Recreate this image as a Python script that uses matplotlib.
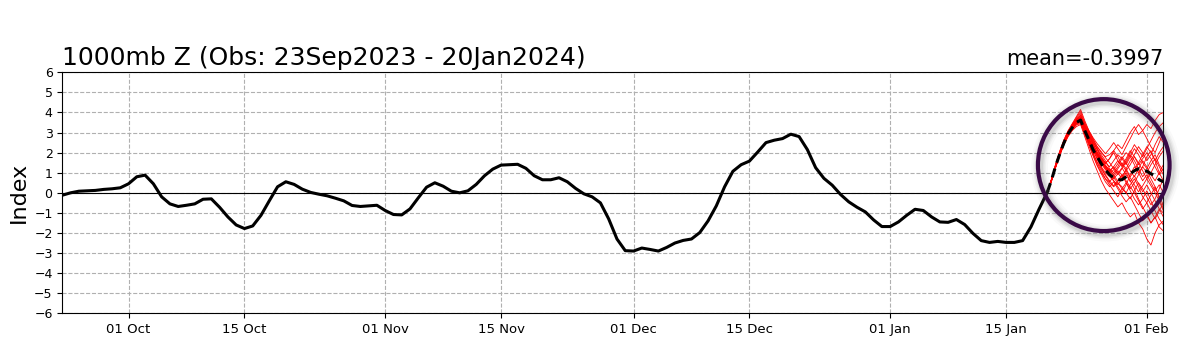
import matplotlib
matplotlib.use("Agg")
import matplotlib.pyplot as plt
import matplotlib.dates as mdates
from matplotlib.patches import Ellipse
import pandas as pd

# ---------------- data ----------------
obs_start = "2023-09-23"
obs_values = [
    -0.12, 0.00, 0.08, 0.10, 0.12, 0.17, 0.20, 0.25, 0.45, 0.80,
    0.88, 0.45, -0.20, -0.55, -0.68, -0.62, -0.55, -0.32, -0.30, -0.72,
    -1.20, -1.60, -1.78, -1.65, -1.12, -0.40, 0.30, 0.55, 0.42, 0.18,
    0.02, -0.07, -0.15, -0.27, -0.40, -0.63, -0.68, -0.65, -0.62, -0.88,
    -1.08, -1.10, -0.80, -0.25, 0.28, 0.50, 0.33, 0.08, 0.00, 0.10,
    0.42, 0.85, 1.18, 1.38, 1.40, 1.42, 1.22, 0.85, 0.65, 0.65,
    0.75, 0.55, 0.22, -0.05, -0.20, -0.50, -1.30, -2.30, -2.88, -2.90,
    -2.75, -2.82, -2.90, -2.72, -2.50, -2.37, -2.30, -1.98, -1.40, -0.65,
    0.30, 1.07, 1.40, 1.58, 2.03, 2.50, 2.62, 2.70, 2.92, 2.80,
    2.15, 1.25, 0.72, 0.38, -0.08, -0.45, -0.72, -0.95, -1.35, -1.68,
    -1.68, -1.45, -1.12, -0.82, -0.88, -1.20, -1.45, -1.47, -1.33, -1.58,
    -2.02, -2.38, -2.47, -2.42, -2.47, -2.47, -2.38, -1.70, -0.80, 0.05,
]

fc_start = "2024-01-20"
fc_mean = [0.05, 0.65, 1.35, 1.95, 2.50, 2.95, 3.25, 3.50, 3.62,
           3.10, 2.65, 2.15, 1.80, 1.45, 1.15, 0.90, 0.75, 0.65, 0.65,
           0.80, 0.95, 1.10, 1.20, 1.15, 1.08, 0.95, 0.85, 0.65, 0.55]

members = [
    [0.05, 0.70, 1.45, 2.10, 2.65, 3.10, 3.45, 3.80, 4.15, 3.60, 3.10, 2.70, 2.30, 2.00, 1.80, 1.90, 2.10, 2.40, 2.20, 2.60, 3.00, 3.30, 2.90, 3.10, 3.40, 3.20, 3.60, 3.90, 4.00],
    [0.05, 0.60, 1.30, 1.90, 2.40, 2.80, 3.10, 3.30, 3.40, 2.80, 2.20, 1.60, 1.10, 0.60, 0.20, -0.10, -0.40, -0.70, -0.50, -0.90, -1.20, -1.00, -1.50, -1.80, -2.30, -2.60, -2.00, -1.60, -1.40],
    [0.05, 0.65, 1.35, 2.00, 2.55, 3.00, 3.30, 3.60, 3.75, 3.30, 2.90, 2.50, 2.20, 1.80, 1.50, 1.30, 1.60, 1.90, 1.70, 1.40, 1.80, 2.20, 1.90, 1.50, 1.20, 1.60, 1.90, 1.40, 1.10],
    [0.05, 0.62, 1.30, 1.92, 2.45, 2.90, 3.20, 3.45, 3.55, 3.00, 2.50, 2.00, 1.50, 1.10, 0.70, 0.50, 0.30, 0.50, 0.20, 0.00, 0.40, 0.70, 0.30, -0.20, -0.50, -0.10, 0.30, -0.30, -0.80],
    [0.05, 0.68, 1.40, 2.02, 2.55, 3.00, 3.35, 3.65, 3.85, 3.40, 3.00, 2.60, 2.20, 1.90, 1.60, 1.20, 1.00, 1.30, 1.70, 2.00, 1.80, 1.40, 1.00, 1.30, 1.80, 2.10, 1.60, 1.00, 0.60],
    [0.05, 0.63, 1.32, 1.93, 2.47, 2.92, 3.22, 3.48, 3.60, 3.05, 2.55, 2.10, 1.70, 1.30, 1.00, 0.80, 0.60, 0.40, 0.70, 1.00, 0.60, 0.20, -0.30, -0.70, -1.10, -1.50, -1.20, -1.70, -1.90],
    [0.05, 0.66, 1.37, 1.98, 2.53, 2.98, 3.30, 3.58, 3.72, 3.20, 2.75, 2.30, 1.90, 1.60, 1.30, 1.10, 1.30, 1.00, 0.70, 1.20, 1.60, 1.90, 2.30, 2.00, 1.60, 1.90, 2.40, 2.80, 2.50],
    [0.05, 0.64, 1.34, 1.95, 2.50, 2.95, 3.26, 3.52, 3.65, 3.10, 2.60, 2.20, 1.85, 1.50, 1.20, 0.90, 0.60, 0.30, 0.00, 0.40, 0.90, 1.30, 1.00, 0.60, 0.90, 0.50, 0.10, 0.40, 0.00],
    [0.05, 0.67, 1.38, 2.00, 2.55, 3.02, 3.34, 3.62, 3.80, 3.35, 2.95, 2.55, 2.15, 1.75, 1.45, 1.70, 2.00, 1.60, 1.30, 1.50, 1.90, 1.60, 1.20, 0.80, 1.10, 0.70, 0.30, -0.20, -0.60],
    [0.05, 0.61, 1.29, 1.90, 2.43, 2.87, 3.17, 3.42, 3.50, 2.95, 2.45, 1.95, 1.55, 1.20, 0.85, 0.55, 0.80, 1.10, 0.90, 0.50, 0.20, 0.50, 0.90, 1.30, 1.00, 1.40, 1.70, 1.30, 0.90],
    [0.05, 0.69, 1.42, 2.05, 2.60, 3.05, 3.38, 3.70, 3.95, 3.45, 3.05, 2.65, 2.30, 2.05, 1.75, 1.50, 1.20, 0.90, 1.20, 1.60, 2.00, 2.40, 2.10, 1.80, 2.20, 2.60, 3.00, 3.30, 3.50],
    [0.05, 0.63, 1.31, 1.92, 2.46, 2.90, 3.20, 3.46, 3.58, 3.00, 2.45, 1.90, 1.40, 1.00, 0.70, 0.40, 0.10, -0.20, 0.20, 0.50, 0.10, -0.30, -0.60, -0.30, 0.10, -0.40, -0.90, -1.30, -1.60],
    [0.05, 0.65, 1.36, 1.98, 2.52, 2.97, 3.28, 3.55, 3.68, 3.20, 2.70, 2.25, 1.80, 1.45, 1.15, 0.95, 1.15, 1.45, 1.80, 1.50, 1.10, 0.80, 1.20, 1.60, 1.30, 0.90, 0.60, 1.00, 1.40],
    [0.05, 0.66, 1.36, 1.97, 2.52, 2.96, 3.28, 3.56, 3.70, 3.25, 2.80, 2.40, 2.00, 1.65, 1.30, 1.00, 0.75, 0.50, 0.30, 0.00, -0.30, 0.10, 0.50, 0.20, -0.20, -0.60, -0.30, 0.20, 0.70],
    [0.05, 0.64, 1.33, 1.95, 2.49, 2.94, 3.25, 3.50, 3.63, 3.10, 2.65, 2.25, 1.90, 1.60, 1.35, 1.15, 0.90, 1.20, 1.50, 1.20, 0.80, 1.10, 1.50, 1.90, 2.30, 2.00, 1.60, 2.00, 2.30],
    [0.05, 0.62, 1.31, 1.92, 2.46, 2.91, 3.22, 3.47, 3.57, 3.05, 2.60, 2.15, 1.70, 1.25, 0.90, 0.60, 0.35, 0.60, 0.90, 0.60, 0.30, 0.00, -0.40, -0.80, -0.50, -0.90, -1.30, -0.90, -0.50],
    [0.05, 0.68, 1.39, 2.02, 2.57, 3.02, 3.35, 3.65, 3.88, 3.35, 2.90, 2.45, 2.00, 1.70, 1.50, 1.70, 2.10, 1.80, 1.40, 1.10, 1.40, 1.80, 1.50, 1.10, 0.70, 1.00, 1.40, 1.80, 2.10],
    [0.05, 0.65, 1.34, 1.96, 2.50, 2.95, 3.27, 3.53, 3.66, 3.15, 2.70, 2.30, 1.95, 1.60, 1.25, 0.95, 0.70, 0.95, 1.25, 0.90, 0.55, 0.85, 0.45, 0.05, 0.40, 0.00, -0.40, -0.80, -1.20],
    [0.05, 0.63, 1.33, 1.94, 2.48, 2.93, 3.24, 3.50, 3.62, 3.12, 2.68, 2.28, 1.92, 1.58, 1.28, 1.05, 1.30, 1.60, 1.35, 1.70, 2.10, 1.80, 1.40, 1.70, 2.00, 1.70, 1.30, 0.90, 1.20],
    [0.05, 0.67, 1.37, 1.99, 2.54, 2.99, 3.31, 3.60, 3.75, 3.28, 2.85, 2.42, 2.05, 1.70, 1.38, 1.10, 0.85, 0.60, 0.85, 1.10, 0.75, 0.40, 0.05, 0.35, 0.70, 0.35, 0.00, -0.40, -0.90],
    [0.05, 0.60, 1.27, 1.88, 2.41, 2.85, 3.15, 3.38, 3.45, 2.90, 2.35, 1.85, 1.35, 0.95, 0.55, 0.30, 0.55, 0.20, -0.15, -0.45, -0.20, -0.60, -1.00, -1.40, -1.10, -1.50, -1.20, -0.80, -1.00],
    [0.05, 0.70, 1.43, 2.07, 2.62, 3.08, 3.42, 3.75, 4.05, 3.50, 3.10, 2.75, 2.45, 2.20, 1.95, 2.20, 2.50, 2.20, 1.90, 2.30, 2.70, 3.10, 3.40, 3.10, 2.70, 2.30, 2.00, 2.50, 3.00],
]

title_left = "1000mb Z (Obs: 23Sep2023 - 20Jan2024)"
title_right = "mean=-0.3997"
y_ticks = list(range(-6, 7))

# ---------------- figure ----------------
obs_dates = pd.date_range(obs_start, periods=len(obs_values), freq="D")
fc_dates = pd.date_range(fc_start, periods=len(fc_mean), freq="12h")

fig = plt.figure(figsize=(11.8, 3.6), dpi=100)
ax = fig.add_axes([0.0528, 0.1297, 0.9331, 0.6694])

ax.grid(True, color="#b0b0b0", linestyle="--", linewidth=0.8)
ax.axhline(0, color="black", linewidth=0.8, zorder=2)

for m in members:
    ax.plot(fc_dates, m, color="red", linewidth=0.6, zorder=3)
ax.plot(obs_dates, obs_values, color="black", linewidth=2.2, zorder=4)
ax.plot(fc_dates, fc_mean, color="black", linewidth=2.2, linestyle=(0, (3, 2)), zorder=5)

ax.set_ylim(-6, 6)
ax.set_yticks(y_ticks)
ax.set_xlim(pd.Timestamp("2023-09-23"), pd.Timestamp("2024-02-03"))
ax.xaxis.set_major_locator(mdates.DayLocator(bymonthday=[1, 15]))
ax.xaxis.set_major_formatter(mdates.DateFormatter("%d %b"))
ax.tick_params(axis="x", labelsize=9.5)
ax.tick_params(axis="y", labelsize=9)
ax.set_ylabel("Index", fontsize=16, labelpad=4)

ax.set_title(title_left, loc="left", fontsize=18, pad=5)
ax.set_title(title_right, loc="right", fontsize=15, pad=5)

# highlight circle around forecast
cx = mdates.date2num(pd.Timestamp("2024-01-27")) - 0.2
cy = 1.38
w = 15.9
h = 6.57
for lw, a in [(12, 0.04), (9, 0.06), (7, 0.09), (5, 0.12)]:
    e = Ellipse((cx + 0.2, cy - 0.1), w, h, fill=False, edgecolor="#666666",
                linewidth=lw, alpha=a, clip_on=False, zorder=6)
    ax.add_patch(e)
circ = Ellipse((cx, cy), w, h, fill=False, edgecolor="#3a0a47", linewidth=3,
               clip_on=False, zorder=7)
ax.add_patch(circ)

fig.savefig("out.png", dpi=100)
